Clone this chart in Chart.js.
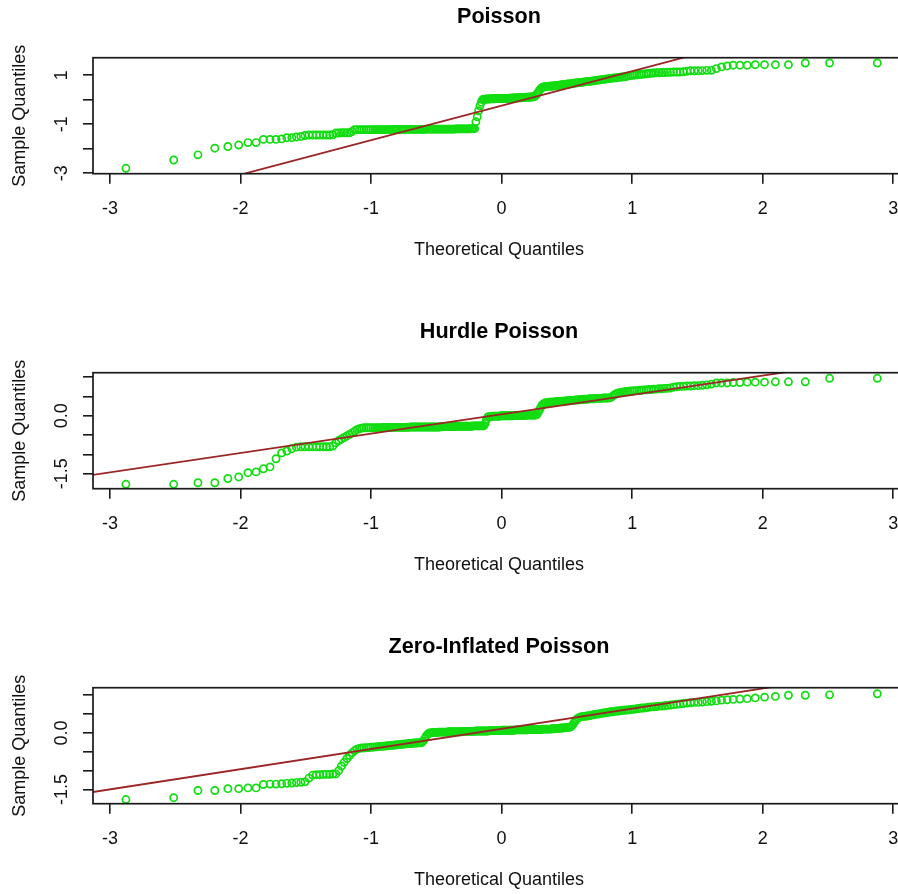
<!DOCTYPE html>
<html>
<head>
<meta charset="utf-8">
<title>Normal Q-Q plots</title>
<script src="https://cdn.jsdelivr.net/npm/chart.js@4.4.0/dist/chart.umd.min.js"></script>
<style>
  html, body { margin: 0; padding: 0; background: #fff; overflow: hidden; }
  #page { position: relative; width: 898px; height: 894px; overflow: hidden; }
  #page canvas { position: absolute; left: 0; }
</style>
</head>
<body>
<div id="page">
  <canvas id="poisson" width="905" height="315" style="top:0;width:905px;height:315px"></canvas>
  <canvas id="hurdle" width="905" height="315" style="top:315px;width:905px;height:315px"></canvas>
  <canvas id="zip" width="905" height="315" style="top:630px;width:905px;height:315px"></canvas>
</div>
<script>
// theoretical normal quantiles (x), shared by the three panels
const theoretical = [
  -2.878,-2.512,-2.326,-2.197,-2.097,-2.014,-1.943,-1.881,-1.825,-1.774,
  -1.728,-1.685,-1.645,-1.607,-1.572,-1.538,-1.506,-1.476,-1.447,-1.419,
  -1.392,-1.366,-1.341,-1.317,-1.293,-1.270,-1.248,-1.227,-1.206,-1.185,
  -1.165,-1.146,-1.126,-1.108,-1.089,-1.071,-1.054,-1.036,-1.019,-1.003,
  -0.986,-0.970,-0.954,-0.939,-0.923,-0.908,-0.893,-0.878,-0.863,-0.849,
  -0.834,-0.820,-0.806,-0.793,-0.779,-0.765,-0.752,-0.739,-0.726,-0.713,
  -0.700,-0.687,-0.674,-0.662,-0.650,-0.637,-0.625,-0.613,-0.601,-0.589,
  -0.577,-0.565,-0.553,-0.542,-0.530,-0.519,-0.507,-0.496,-0.485,-0.473,
  -0.462,-0.451,-0.440,-0.429,-0.418,-0.407,-0.396,-0.385,-0.375,-0.364,
  -0.353,-0.342,-0.332,-0.321,-0.311,-0.300,-0.290,-0.279,-0.269,-0.259,
  -0.248,-0.238,-0.228,-0.217,-0.207,-0.197,-0.187,-0.176,-0.166,-0.156,
  -0.146,-0.136,-0.126,-0.116,-0.105,-0.095,-0.085,-0.075,-0.065,-0.055,
  -0.045,-0.035,-0.025,-0.015,-0.005,0.005,0.015,0.025,0.035,0.045,
  0.055,0.065,0.075,0.085,0.095,0.105,0.116,0.126,0.136,0.146,
  0.156,0.166,0.176,0.187,0.197,0.207,0.217,0.228,0.238,0.248,
  0.259,0.269,0.279,0.290,0.300,0.311,0.321,0.332,0.342,0.353,
  0.364,0.375,0.385,0.396,0.407,0.418,0.429,0.440,0.451,0.462,
  0.473,0.485,0.496,0.507,0.519,0.530,0.542,0.553,0.565,0.577,
  0.589,0.601,0.613,0.625,0.637,0.650,0.662,0.674,0.687,0.700,
  0.713,0.726,0.739,0.752,0.765,0.779,0.793,0.806,0.820,0.834,
  0.849,0.863,0.878,0.893,0.908,0.923,0.939,0.954,0.970,0.986,
  1.003,1.019,1.036,1.054,1.071,1.089,1.108,1.126,1.146,1.165,
  1.185,1.206,1.227,1.248,1.270,1.293,1.317,1.341,1.366,1.392,
  1.419,1.447,1.476,1.506,1.538,1.572,1.607,1.645,1.685,1.728,
  1.774,1.825,1.881,1.943,2.014,2.097,2.197,2.326,2.512,2.878
];

const poissonSample = [
  -2.80,-2.46,-2.25,-1.98,-1.91,-1.85,-1.75,-1.75,-1.62,-1.62,
  -1.62,-1.60,-1.55,-1.55,-1.52,-1.50,-1.46,-1.44,-1.44,-1.44,
  -1.44,-1.44,-1.44,-1.44,-1.43,-1.36,-1.36,-1.35,-1.35,-1.35,
  -1.35,-1.30,-1.22,-1.22,-1.22,-1.22,-1.22,-1.22,-1.22,-1.22,
  -1.22,-1.22,-1.22,-1.22,-1.22,-1.22,-1.22,-1.22,-1.22,-1.22,
  -1.21,-1.21,-1.21,-1.21,-1.21,-1.21,-1.21,-1.21,-1.21,-1.21,
  -1.21,-1.21,-1.21,-1.21,-1.21,-1.21,-1.21,-1.21,-1.21,-1.21,
  -1.20,-1.20,-1.20,-1.20,-1.20,-1.20,-1.20,-1.20,-1.20,-1.20,
  -1.20,-1.20,-1.20,-1.20,-1.20,-1.20,-1.20,-1.20,-1.20,-1.20,
  -1.19,-1.19,-1.19,-1.19,-1.19,-1.19,-1.19,-1.19,-1.19,-1.19,
  -1.19,-1.19,-1.18,-1.18,-1.18,-0.90,-0.70,-0.45,-0.25,-0.10,
  0.00,0.02,0.02,0.03,0.03,0.03,0.04,0.04,0.04,0.04,
  0.05,0.05,0.05,0.05,0.05,0.05,0.05,0.05,0.05,0.05,
  0.06,0.06,0.06,0.07,0.07,0.07,0.08,0.08,0.08,0.08,
  0.09,0.09,0.09,0.10,0.10,0.10,0.11,0.11,0.12,0.12,
  0.16,0.22,0.30,0.38,0.45,0.50,0.52,0.53,0.54,0.54,
  0.55,0.55,0.56,0.56,0.57,0.58,0.58,0.59,0.60,0.61,
  0.61,0.62,0.63,0.64,0.64,0.65,0.66,0.67,0.68,0.69,
  0.70,0.70,0.71,0.72,0.73,0.74,0.75,0.75,0.76,0.77,
  0.78,0.79,0.80,0.81,0.82,0.83,0.84,0.85,0.86,0.87,
  0.88,0.89,0.90,0.91,0.92,0.93,0.94,0.95,0.97,0.99,
  1.00,1.01,1.02,1.03,1.04,1.05,1.06,1.07,1.08,1.09,
  1.10,1.10,1.11,1.11,1.12,1.12,1.13,1.13,1.13,1.14,
  1.16,1.18,1.18,1.18,1.19,1.20,1.20,1.27,1.34,1.38,
  1.41,1.41,1.41,1.43,1.43,1.43,1.43,1.50,1.50,1.50
];

const hurdleSample = [
  -1.77,-1.77,-1.73,-1.73,-1.62,-1.58,-1.47,-1.45,-1.37,-1.32,
  -1.11,-0.96,-0.91,-0.85,-0.81,-0.80,-0.80,-0.80,-0.80,-0.80,
  -0.80,-0.80,-0.80,-0.80,-0.78,-0.70,-0.64,-0.60,-0.56,-0.52,
  -0.48,-0.44,-0.40,-0.36,-0.33,-0.32,-0.31,-0.31,-0.31,-0.31,
  -0.31,-0.31,-0.31,-0.31,-0.31,-0.30,-0.30,-0.30,-0.30,-0.30,
  -0.30,-0.30,-0.30,-0.30,-0.30,-0.30,-0.30,-0.30,-0.30,-0.30,
  -0.29,-0.29,-0.29,-0.29,-0.29,-0.29,-0.29,-0.29,-0.29,-0.29,
  -0.29,-0.29,-0.29,-0.29,-0.29,-0.29,-0.29,-0.29,-0.29,-0.29,
  -0.28,-0.28,-0.28,-0.28,-0.28,-0.28,-0.28,-0.28,-0.28,-0.28,
  -0.27,-0.27,-0.27,-0.27,-0.27,-0.27,-0.27,-0.27,-0.27,-0.27,
  -0.27,-0.27,-0.27,-0.26,-0.26,-0.26,-0.26,-0.26,-0.26,-0.26,
  -0.26,-0.25,-0.20,-0.10,-0.03,-0.02,-0.02,-0.02,-0.01,-0.01,
  -0.01,-0.01,-0.01,-0.01,0.00,0.00,0.00,0.00,0.00,0.00,
  0.00,0.00,0.00,0.00,0.01,0.01,0.01,0.01,0.01,0.01,
  0.01,0.01,0.01,0.01,0.02,0.02,0.02,0.02,0.02,0.02,
  0.02,0.03,0.08,0.15,0.22,0.28,0.31,0.33,0.34,0.34,
  0.35,0.35,0.35,0.36,0.36,0.36,0.37,0.37,0.37,0.38,
  0.38,0.38,0.39,0.39,0.39,0.40,0.40,0.40,0.41,0.41,
  0.41,0.42,0.42,0.42,0.43,0.43,0.43,0.44,0.44,0.44,
  0.44,0.45,0.45,0.45,0.45,0.46,0.46,0.46,0.46,0.47,
  0.50,0.54,0.57,0.59,0.60,0.61,0.62,0.63,0.63,0.64,
  0.64,0.65,0.65,0.66,0.66,0.67,0.67,0.68,0.68,0.69,
  0.69,0.70,0.70,0.71,0.71,0.72,0.74,0.75,0.76,0.76,
  0.77,0.77,0.78,0.78,0.79,0.80,0.82,0.85,0.85,0.85,
  0.86,0.86,0.87,0.87,0.87,0.88,0.88,0.88,0.97,0.97
];

const zipSample = [
  -1.77,-1.72,-1.53,-1.53,-1.48,-1.48,-1.46,-1.46,-1.37,-1.36,
  -1.36,-1.35,-1.34,-1.33,-1.32,-1.31,-1.30,-1.20,-1.12,-1.11,
  -1.11,-1.10,-1.10,-1.10,-1.09,-1.09,-1.00,-0.88,-0.78,-0.68,
  -0.60,-0.53,-0.47,-0.43,-0.41,-0.40,-0.40,-0.39,-0.39,-0.38,
  -0.38,-0.37,-0.37,-0.36,-0.36,-0.35,-0.35,-0.34,-0.34,-0.33,
  -0.33,-0.32,-0.32,-0.31,-0.31,-0.30,-0.30,-0.29,-0.29,-0.28,
  -0.28,-0.28,-0.27,-0.27,-0.27,-0.26,-0.26,-0.26,-0.22,-0.15,
  -0.08,-0.03,0.00,0.00,0.01,0.01,0.01,0.01,0.02,0.02,
  0.02,0.02,0.02,0.02,0.02,0.03,0.03,0.03,0.03,0.03,
  0.03,0.03,0.03,0.03,0.03,0.04,0.04,0.04,0.04,0.04,
  0.04,0.04,0.04,0.04,0.04,0.05,0.05,0.05,0.05,0.05,
  0.05,0.05,0.05,0.05,0.05,0.06,0.06,0.06,0.06,0.06,
  0.06,0.06,0.06,0.06,0.06,0.07,0.07,0.07,0.07,0.07,
  0.07,0.07,0.07,0.07,0.07,0.08,0.08,0.08,0.08,0.08,
  0.08,0.08,0.08,0.08,0.08,0.09,0.09,0.09,0.09,0.09,
  0.09,0.09,0.09,0.09,0.09,0.10,0.10,0.10,0.10,0.10,
  0.10,0.10,0.11,0.11,0.11,0.12,0.12,0.12,0.13,0.13,
  0.13,0.14,0.14,0.15,0.15,0.16,0.20,0.26,0.32,0.37,
  0.40,0.42,0.43,0.44,0.44,0.45,0.45,0.46,0.47,0.48,
  0.49,0.50,0.50,0.51,0.52,0.53,0.53,0.54,0.55,0.56,
  0.56,0.57,0.58,0.58,0.59,0.60,0.60,0.61,0.61,0.62,
  0.63,0.63,0.64,0.65,0.66,0.66,0.67,0.68,0.69,0.69,
  0.70,0.71,0.71,0.72,0.73,0.74,0.75,0.76,0.77,0.78,
  0.79,0.80,0.81,0.81,0.82,0.83,0.84,0.85,0.87,0.88,
  0.89,0.90,0.91,0.93,0.95,0.97,1.00,1.00,1.01,1.04
];

// qq reference lines, two end points each (clipped to the plot box)
const poissonLineX = [-2.05, 1.47];
const poissonLineY = [-3.13, 1.827];
const hurdleLineX = [-3.2, 2.3];
const hurdleLineY = [-1.56, 1.19];
const zipLineX = [-3.2, 2.2];
const zipLineY = [-1.607, 1.287];

const xTicks = [-3, -2, -1, 0, 1, 2, 3];
const poissonYTicks = [-3, -2, -1, 0, 1];
const poissonYLabels = ['-3', '', '-1', '', '1'];
const halfYTicks = [-1.5, -1, -0.5, 0, 0.5, 1];
const halfYLabels = ['-1.5', '', '', '0.0', '', ''];

Chart.defaults.font.family = '"Liberation Sans", Arial, Helvetica, sans-serif';
Chart.defaults.font.size = 18;
Chart.defaults.color = '#111';

const frame = {
  id: 'frame',
  afterDraw(chart) {
    const { ctx, chartArea: a } = chart;
    ctx.save();
    ctx.strokeStyle = '#1a1a1a';
    ctx.lineWidth = 1.7;
    ctx.strokeRect(a.left, a.top, a.right - a.left, a.bottom - a.top);
    ctx.restore();
  }
};

function noEdgePadding(axis) {
  axis.paddingLeft = 0;
  axis.paddingRight = 0;
  axis.paddingTop = 0;
  axis.paddingBottom = 0;
}

function qqPanel(id, title, sample, lineX, lineY, yMin, yMax, yTicks, yLabels, labelPad) {
  const points = theoretical.map((x, i) => ({ x: x, y: sample[i] }));
  const line = lineX.map((x, i) => ({ x: x, y: lineY[i] }));
  const tickGrid = { drawOnChartArea: false, tickLength: 10, color: '#1a1a1a', lineWidth: 1.6 };

  return new Chart(document.getElementById(id), {
    type: 'scatter',
    data: {
      datasets: [
        { data: line, showLine: true, borderColor: '#9b2626', borderWidth: 1.8, pointRadius: 0 },
        { data: points, borderColor: '#11dd11', backgroundColor: 'rgba(0,0,0,0)', borderWidth: 1.7, pointRadius: 3.6 }
      ]
    },
    options: {
      responsive: false,
      animation: false,
      events: [],
      layout: { padding: 0, autoPadding: false },
      plugins: {
        legend: { display: false },
        tooltip: { enabled: false },
        title: {
          display: true,
          text: title,
          fullSize: false,
          color: '#000',
          font: { size: 21.6, weight: 'bold' },
          padding: { top: 3.7, bottom: 28.1 }
        }
      },
      scales: {
        x: {
          type: 'linear',
          min: -3.13,
          max: 3.09,
          afterBuildTicks: axis => { axis.ticks = xTicks.map(v => ({ value: v })); },
          afterFit: axis => { axis.height = 141.3; noEdgePadding(axis); },
          ticks: { padding: 14.5, maxRotation: 0, autoSkip: false, callback: v => String(v) },
          grid: tickGrid,
          border: { display: false },
          title: { display: true, text: 'Theoretical Quantiles', padding: { top: 0, bottom: 54.5 } }
        },
        y: {
          type: 'linear',
          min: yMin,
          max: yMax,
          afterBuildTicks: axis => { axis.ticks = yTicks.map(v => ({ value: v })); },
          afterFit: axis => { axis.width = 93; noEdgePadding(axis); },
          ticks: {
            padding: labelPad,
            minRotation: 90,
            maxRotation: 90,
            crossAlign: 'center',
            autoSkip: false,
            callback: (v, i) => yLabels[i]
          },
          grid: tickGrid,
          border: { display: false },
          title: { display: true, text: 'Sample Quantiles', padding: { top: 9.5, bottom: 0 } }
        }
      }
    },
    plugins: [frame]
  });
}

qqPanel('poisson', 'Poisson', poissonSample, poissonLineX, poissonLineY,
  -3.02, 1.715, poissonYTicks, poissonYLabels, 13);
qqPanel('hurdle', 'Hurdle Poisson', hurdleSample, hurdleLineX, hurdleLineY,
  -1.884, 1.114, halfYTicks, halfYLabels, 5.5);
qqPanel('zip', 'Zero-Inflated Poisson', zipSample, zipLineX, zipLineY,
  -1.88, 1.20, halfYTicks, halfYLabels, 5.5);
</script>
</body>
</html>
